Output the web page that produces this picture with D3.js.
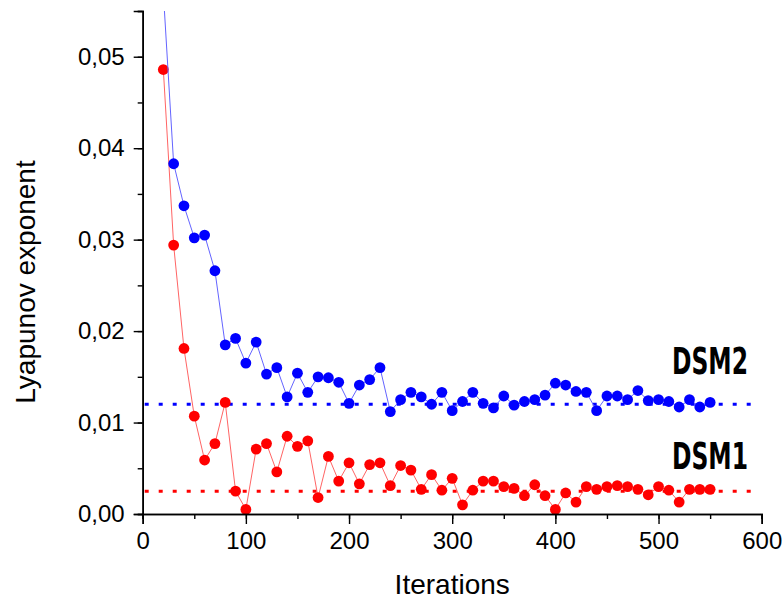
<!DOCTYPE html>
<html>
<head>
<meta charset="utf-8">
<script src="https://cdn.jsdelivr.net/npm/d3@7"></script>
<style>
  body { margin: 0; background: #fff; }
  svg text { font-family: "Liberation Sans", Arial, sans-serif; }
</style>
</head>
<body>
<div id="chart"></div>
<script>
// iterations (x) shared by both series
var iterations = [20, 30, 40, 50, 60, 70, 80, 90, 100,
  110, 120, 130, 140, 150, 160, 170, 180, 190, 200,
  210, 220, 230, 240, 250, 260, 270, 280, 290, 300,
  310, 320, 330, 340, 350, 360, 370, 380, 390, 400,
  410, 420, 430, 440, 450, 460, 470, 480, 490, 500,
  510, 520, 530, 540, 550];

var dsm2 = [0.0570, 0.0383, 0.0337, 0.0302, 0.0305, 0.0266, 0.0185, 0.0192, 0.0165,
  0.0188, 0.0153, 0.0160, 0.0128, 0.0154, 0.0133, 0.0150, 0.0149, 0.0144, 0.0121,
  0.0141, 0.0147, 0.0160, 0.0112, 0.0125, 0.0133, 0.0128, 0.0120, 0.0133, 0.0113,
  0.0123, 0.0133, 0.0121, 0.0116, 0.0129, 0.0119, 0.0123, 0.0125, 0.0130, 0.0143,
  0.0141, 0.0134, 0.0133, 0.0113, 0.0129, 0.0129, 0.0125, 0.0135, 0.0124, 0.0125,
  0.0123, 0.0117, 0.0125, 0.0117, 0.0122];

var dsm1 = [0.0486, 0.0294, 0.0181, 0.0107, 0.0059, 0.0077, 0.0122, 0.0025, 0.0005,
  0.0071, 0.0077, 0.0046, 0.0085, 0.0074, 0.0080, 0.0018, 0.0063, 0.0036, 0.0056,
  0.0033, 0.0054, 0.0056, 0.0031, 0.0053, 0.0048, 0.0027, 0.0043, 0.0026, 0.0039,
  0.0010, 0.0026, 0.0036, 0.0036, 0.0030, 0.0028, 0.0020, 0.0032, 0.0020, 0.0005,
  0.0023, 0.0013, 0.0030, 0.0027, 0.0030, 0.0031, 0.0030, 0.0027, 0.0021, 0.0030,
  0.0026, 0.0013, 0.0027, 0.0027, 0.0027];

// asymptotic levels (dotted lines)
var levels = [0.012, 0.0025];
var levelNames = ["DSM2", "DSM1"];
var colors = ["#0000ff", "#ff0000"];
var lineColors = ["#6464ff", "#ff6464"];

var xTicks = [0, 100, 200, 300, 400, 500, 600];
var yTicks = [0, 0.01, 0.02, 0.03, 0.04, 0.05];

(function(){
  var W = 784, H = 604;
  // plot box (window.top is reserved, so no "top" here)
  var mLeft = 142.7, mRight = 761.7, mTop = 11, mBottom = 514;

  var svg = d3.select("#chart").append("svg")
    .attr("width", W)
    .attr("height", H);

  var x = d3.scaleLinear().domain([0, 600]).range([mLeft, mRight]);
  var y = d3.scaleLinear().domain([0, 0.055]).range([mBottom, mTop]);

  svg.append("clipPath").attr("id", "clip")
    .append("rect")
    .attr("x", mLeft - 10).attr("y", mTop)
    .attr("width", mRight - mLeft + 20).attr("height", mBottom - mTop + 20);

  var plot = svg.append("g").attr("clip-path", "url(#clip)");

  // dotted levels
  plot.selectAll("line.level")
    .data(levels)
    .enter()
    .append("line")
    .attr("class", "level")
    .attr("x1", x(0) + 2)
    .attr("x2", x(600) - 4)
    .attr("y1", function(d){ return y(d); })
    .attr("y2", function(d){ return y(d); })
    .attr("stroke", function(d, i){ return colors[i]; })
    .attr("stroke-width", 3)
    .attr("stroke-dasharray", "4,10");

  var series = [dsm1, dsm2];
  var seriesColor = [1, 0]; // red first, blue on top

  var line = d3.line()
    .x(function(d){ return x(d[0]); })
    .y(function(d){ return y(d[1]); });

  series.forEach(function(vals, k){
    var c = seriesColor[k];
    var pts = iterations.map(function(it, i){ return [it, vals[i]]; });
    plot.append("path")
      .datum(pts)
      .attr("d", line)
      .attr("fill", "none")
      .attr("stroke", lineColors[c])
      .attr("stroke-width", 1);
    plot.selectAll("circle.s" + k)
      .data(pts)
      .enter()
      .append("circle")
      .attr("class", "s" + k)
      .attr("cx", function(d){ return x(d[0]); })
      .attr("cy", function(d){ return y(d[1]); })
      .attr("r", 5.4)
      .attr("fill", colors[c]);
  });

  // axes
  var fmt = function(d){ return d3.format(".2f")(d).replace(".", ","); };

  var xAxis = svg.append("g")
    .attr("transform", "translate(0," + mBottom + ")")
    .call(d3.axisBottom(x).tickValues(d3.range(0, 601, 50)).tickSize(5).tickFormat(""));
  xAxis.append("g")
    .call(d3.axisBottom(x).tickValues(xTicks).tickSize(10).tickPadding(6));

  var yAxis = svg.append("g")
    .attr("transform", "translate(" + mLeft + ",0)")
    .call(d3.axisLeft(y).tickValues(d3.range(0, 0.0551, 0.005)).tickSize(5).tickFormat(""));
  yAxis.append("g")
    .call(d3.axisLeft(y).tickValues(yTicks).tickSize(9).tickPadding(9).tickFormat(fmt));

  svg.selectAll(".domain").attr("stroke", "#000").attr("stroke-width", 1.6);
  svg.selectAll(".tick line").attr("stroke", "#000").attr("stroke-width", 1.4);
  svg.selectAll(".tick text")
    .attr("font-size", 24)
    .attr("font-family", "Liberation Sans, Arial, sans-serif")
    .attr("fill", "#000");
  xAxis.selectAll(".tick text").attr("dy", "0.8em");

  // axis titles
  svg.append("text")
    .attr("x", (mLeft + mRight) / 2)
    .attr("y", 594)
    .attr("text-anchor", "middle")
    .attr("font-size", 28)
    .text("Iterations");

  svg.append("text")
    .attr("transform", "translate(35,282) rotate(-90)")
    .attr("text-anchor", "middle")
    .attr("font-size", 28)
    .text("Lyapunov exponent");

  // series names
  svg.selectAll("text.name")
    .data(levelNames)
    .enter()
    .append("text")
    .attr("class", "name")
    .attr("x", 672)
    .attr("y", function(d, i){ return [374, 469][i]; })
    .attr("font-size", 38)
    .attr("font-weight", "bold")
    .attr("textLength", 76)
    .attr("lengthAdjust", "spacingAndGlyphs")
    .style("font-family", "'Liberation Sans Narrow', 'DejaVu Sans Condensed', sans-serif")
    .text(function(d){ return d; });
})();
</script>
</body>
</html>
